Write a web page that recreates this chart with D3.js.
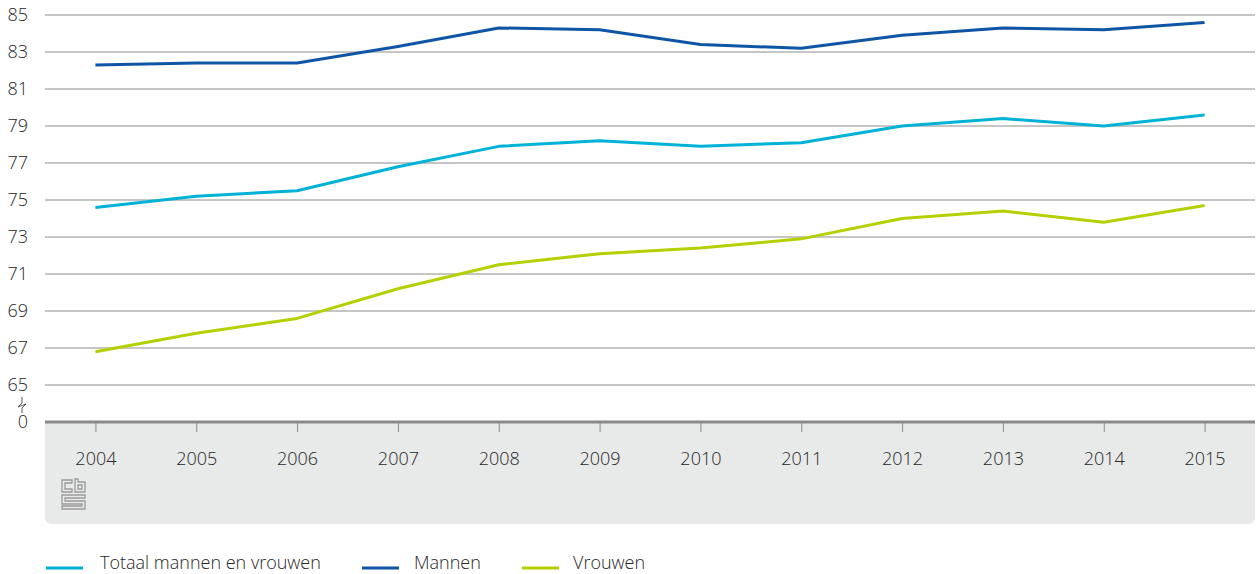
<!DOCTYPE html>
<html>
<head>
<meta charset="utf-8">
<script src="https://cdn.jsdelivr.net/npm/d3@7"></script>
<style>
  html, body { margin: 0; padding: 0; background: #fff; }
  svg text { font-family: "Open Sans", sans-serif; fill: #262626; font-weight: 300; }
</style>
</head>
<body>
<svg id="chart" width="1259" height="574"></svg>
<script>
// Jaren en waarden per reeks
const years = [2004, 2005, 2006, 2007, 2008, 2009, 2010, 2011, 2012, 2013, 2014, 2015];
const totaal = [74.6, 75.2, 75.5, 76.8, 77.9, 78.2, 77.9, 78.1, 79.0, 79.4, 79.0, 79.6];
const mannen = [82.3, 82.4, 82.4, 83.3, 84.3, 84.2, 83.4, 83.2, 83.9, 84.3, 84.2, 84.6];
const vrouwen = [66.8, 67.8, 68.6, 70.2, 71.5, 72.1, 72.4, 72.9, 74.0, 74.4, 73.8, 74.7];
const yTicks = [65, 67, 69, 71, 73, 75, 77, 79, 81, 83, 85];
const seriesNames = ["Totaal mannen en vrouwen", "Mannen", "Vrouwen"];
const seriesColors = ["#00b2d6", "#0f55a6", "#b5d000"];

const series = [
  { name: seriesNames[0], values: totaal, color: seriesColors[0] },
  { name: seriesNames[1], values: mannen, color: seriesColors[1] },
  { name: seriesNames[2], values: vrouwen, color: seriesColors[2] }
];

const FS = 18;
const svg = d3.select("#chart");
const left = 45, right = 1255;
const zeroY = 422;

const x = d3.scalePoint().domain(years).range([left, right]).padding(0.5);
const y = d3.scaleLinear().domain([65, 85]).range([385, 15]);

// grijs vlak onder de as
const panelBottom = 524, r = 7;
svg.append("path")
  .attr("d", `M${left},${zeroY} H${right} V${panelBottom - r} Q${right},${panelBottom} ${right - r},${panelBottom} H${left + r} Q${left},${panelBottom} ${left},${panelBottom - r} Z`)
  .attr("fill", "#e8e9e9");

// rasterlijnen
svg.append("g").selectAll("line").data(yTicks).join("line")
  .attr("x1", left).attr("x2", right)
  .attr("y1", d => y(d)).attr("y2", d => y(d))
  .attr("stroke", "#8c8c8c").attr("stroke-width", 1);

// y-labels
svg.append("g").selectAll("text").data(yTicks).join("text")
  .attr("x", 28).attr("y", d => y(d)).attr("dy", "0.35em")
  .attr("text-anchor", "end").attr("font-size", FS)
  .text(d => d);
svg.append("text").attr("x", 28).attr("y", zeroY).attr("dy", "0.35em")
  .attr("text-anchor", "end").attr("font-size", FS).text(0);

// asonderbreking
svg.append("path")
  .attr("d", "M22,397 V403 L18,407 L26,404 L22,408 V413")
  .attr("fill", "none").attr("stroke", "#555").attr("stroke-width", 1);

// x-as
const xAxis = d3.axisBottom(x).tickSize(10);
const gx = svg.append("g").attr("transform", `translate(0,${zeroY})`).call(xAxis);
gx.select(".domain").remove();
gx.selectAll(".tick line").attr("stroke", "#8c8c8c").attr("stroke-width", 1);
gx.selectAll(".tick text")
  .attr("y", 36.5).attr("dy", "0.35em")
  .attr("font-size", FS).attr("font-family", "Open Sans, sans-serif")
  .attr("font-weight", 300).attr("fill", "#262626");
svg.append("line").attr("x1", left).attr("x2", right).attr("y1", zeroY).attr("y2", zeroY)
  .attr("stroke", "#8a8a8a").attr("stroke-width", 3);

// lijnen
const line = d3.line().x((d, i) => x(years[i])).y(d => y(d));
svg.append("g").selectAll("path").data(series).join("path")
  .attr("d", d => line(d.values))
  .attr("fill", "none").attr("stroke", d => d.color).attr("stroke-width", 3)
  .attr("stroke-linejoin", "round");

// CBS-logo
const logo = svg.append("g").attr("transform", "translate(61,479)")
  .attr("fill", "none").attr("stroke", "#9a9a9a").attr("stroke-width", 1.3);
logo.append("path").attr("d", "M11,1 H1 V13 H11 V10 H4 V4 H11 Z");
logo.append("path").attr("d", "M14,0 V13 H24 V3 H17 V0 Z M17,6 H21 V10 H17 Z");
logo.append("path").attr("d", "M1,16 H24 V19 H4 V22 H24 V30 H1 V27 H21 V25 H1 Z");

// legenda
const legendItems = [
  { name: seriesNames[0], color: seriesColors[0], lx: 46, tx: 100 },
  { name: seriesNames[1], color: seriesColors[1], lx: 362, tx: 414 },
  { name: seriesNames[2], color: seriesColors[2], lx: 522, tx: 573 }
];
const lg = svg.append("g");
lg.selectAll("line").data(legendItems).join("line")
  .attr("x1", d => d.lx).attr("x2", d => d.lx + 37)
  .attr("y1", 568).attr("y2", 568)
  .attr("stroke", d => d.color).attr("stroke-width", 3);
lg.selectAll("text").data(legendItems).join("text")
  .attr("x", d => d.tx).attr("y", 563).attr("dy", "0.35em")
  .attr("font-size", FS).text(d => d.name);
</script>
</body>
</html>
